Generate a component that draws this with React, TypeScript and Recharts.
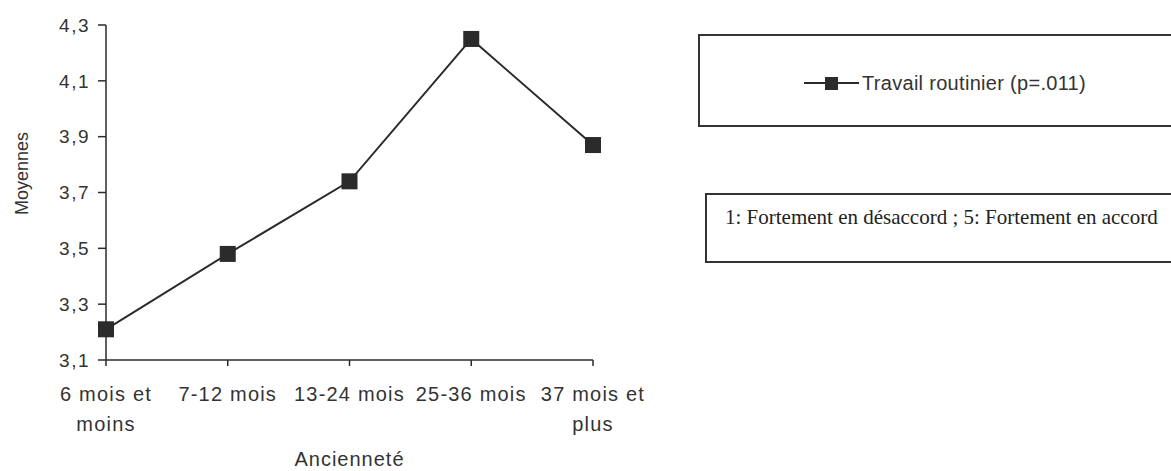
import React from 'react';
import { LineChart, Line, XAxis, YAxis } from 'recharts';

const categories = ['6 mois et moins', '7-12 mois', '13-24 mois', '25-36 mois', '37 mois et plus'];
const categoryLines = [['6 mois et', 'moins'], ['7-12 mois'], ['13-24 mois'], ['25-36 mois'], ['37 mois et', 'plus']];
const travailRoutinier = [3.21, 3.48, 3.74, 4.25, 3.87];
const yTicks = [3.1, 3.3, 3.5, 3.7, 3.9, 4.1, 4.3];
const seriesName = 'Travail routinier (p=.011)';
const noteText = '1: Fortement en désaccord ; 5: Fortement en accord';
const xTitle = 'Ancienneté';
const yTitle = 'Moyennes';

const data = categories.map((c, i) => ({ cat: c, lines: categoryLines[i], value: travailRoutinier[i] }));

const INK = '#2b2b2b';
const SANS = 'Arial, "Liberation Sans", sans-serif';
const SERIF = '"Times New Roman", "Liberation Serif", serif';

const SquareDot = (props: any) => {
  const { cx, cy } = props;
  if (cx == null || cy == null) return null;
  const s = 16;
  return <rect x={cx - s / 2} y={cy - s / 2} width={s} height={s} fill={INK} />;
};

const XTick = (props: any) => {
  const { x, y, index } = props;
  const lines = categoryLines[index] || [];
  return (
    <text x={x} y={y} textAnchor="middle" fontFamily={SANS} fontSize={20} letterSpacing={1.2} fill="#333">
      {lines.map((l: string, i: number) => (
        <tspan key={i} x={x} dy={i === 0 ? 33 : 30}>{l}</tspan>
      ))}
    </text>
  );
};

const YLabel = (props: any) => {
  const vb = props.viewBox || {};
  const cx = vb.x + 22;
  const cy = vb.y + vb.height / 2 - 19;
  return (
    <text x={cx} y={cy} transform={`rotate(-90 ${cx} ${cy})`} textAnchor="middle" dominantBaseline="central" fontFamily={SANS} fontSize={18} fill="#333">
      {yTitle}
    </text>
  );
};

const LegendBoxes = () => (
  <div style={{ position: 'absolute', left: 698, top: 34, width: 473, height: 240 }}>
    <div style={{ position: 'absolute', left: 0, top: 0, width: 480, height: 93, border: '2px solid #333', boxSizing: 'border-box', background: '#fff' }}>
      <svg width={60} height={20} style={{ position: 'absolute', left: 102, top: 37 }}>
        <line x1={2} y1={10} x2={57} y2={10} stroke={INK} strokeWidth={2} />
        <rect x={23} y={4} width={13} height={13} fill={INK} />
      </svg>
      <span style={{ position: 'absolute', left: 162, top: 34, fontFamily: SANS, fontSize: 20, letterSpacing: 0.3, color: '#333', whiteSpace: 'nowrap', lineHeight: '26px' }}>{seriesName}</span>
    </div>
    <div style={{ position: 'absolute', left: 7, top: 159, width: 480, height: 70, border: '2px solid #333', boxSizing: 'border-box', background: '#fff' }}>
      <span style={{ position: 'absolute', left: 18, top: 9, fontFamily: SERIF, fontSize: 21, color: '#222', whiteSpace: 'nowrap', lineHeight: '26px' }}>{noteText}</span>
    </div>
  </div>
);

export default function App() {
  return (
    <div style={{ position: 'absolute', left: 0, top: 0, width: 1171, height: 471, background: '#fff', overflow: 'hidden' }}>
      <LineChart width={1171} height={471} data={data} margin={{ top: 25, right: 578, left: 0, bottom: 0 }}>
        <XAxis
          dataKey="cat"
          height={111}
          tick={<XTick />}
          tickSize={6}
          axisLine={{ stroke: INK, strokeWidth: 1.5 }}
          tickLine={{ stroke: INK, strokeWidth: 1.5 }}
          interval={0}
          label={{ value: xTitle, position: 'insideBottom', offset: 5, fontFamily: SANS, fontSize: 20, letterSpacing: 1, fill: '#333' }}
        />
        <YAxis
          width={106}
          domain={[3.1, 4.3]}
          ticks={yTicks}
          interval={0}
          tickFormatter={(v: number) => v.toFixed(1).replace('.', ',')}
          tick={{ fontFamily: SANS, fontSize: 19, letterSpacing: 1.5, fill: '#333' }}
          tickSize={8}
          tickMargin={8}
          axisLine={{ stroke: INK, strokeWidth: 1.5 }}
          tickLine={{ stroke: INK, strokeWidth: 1.5 }}
          label={<YLabel />}
          allowDataOverflow
        />
        <Line
          type="linear"
          dataKey="value"
          name={seriesName}
          stroke={INK}
          strokeWidth={2}
          dot={<SquareDot />}
          activeDot={false}
          isAnimationActive={false}
        />
      </LineChart>
      <LegendBoxes />
    </div>
  );
}
